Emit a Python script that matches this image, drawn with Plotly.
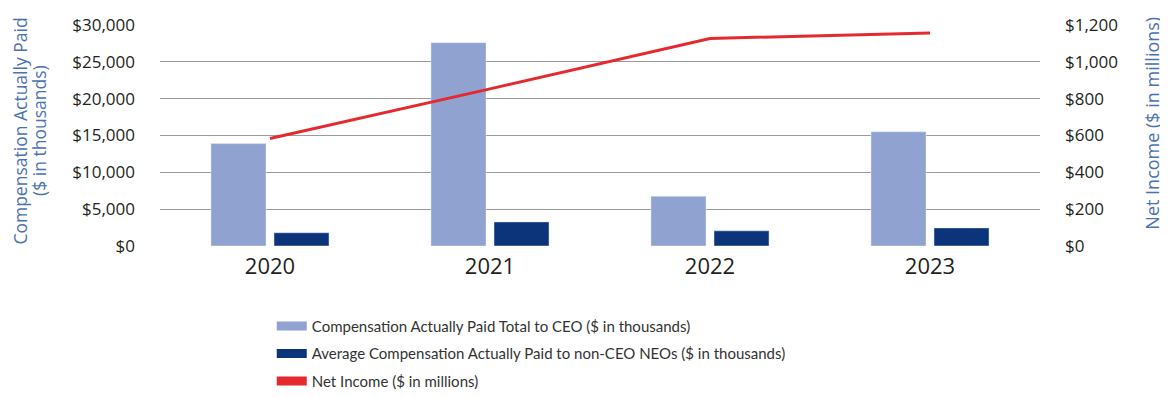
import plotly.graph_objects as go

years = ["2020", "2021", "2022", "2023"]
ceo_cap = [13900, 27600, 6750, 15500]
neo_cap = [1800, 3270, 2060, 2460]
net_income = [584, 853, 1127, 1157]

left_ticks = [0, 5000, 10000, 15000, 20000, 25000, 30000]
right_ticks = [0, 200, 400, 600, 800, 1000, 1200]

C_CEO = "#8fa2d0"
C_NEO = "#0b347a"
C_NI = "#e42a2f"
C_TITLE = "#4a72b2"
C_TEXT = "#231f20"

fig = go.Figure()
fig.add_trace(go.Bar(x=years, y=ceo_cap, marker_color=C_CEO, showlegend=False,
                     name="Compensation Actually Paid Total to CEO ($ in thousands)"))
fig.add_trace(go.Bar(x=years, y=neo_cap, marker_color=C_NEO, showlegend=False,
                     name="Average Compensation Actually Paid to non-CEO NEOs ($ in thousands)"))
fig.add_trace(go.Scatter(x=years, y=net_income, yaxis="y2", mode="lines",
                         line=dict(color=C_NI, width=3), showlegend=False,
                         name="Net Income ($ in millions)"))

# legend entries (rectangular swatches)
for nm, col, g in [("Compensation Actually Paid Total to CEO ($ in thousands)", C_CEO, "a"),
                   ("Average Compensation Actually Paid to non-CEO NEOs ($ in thousands)", C_NEO, "b"),
                   ("Net Income ($ in millions)", C_NI, "c")]:
    fig.add_trace(go.Scatter(x=[None], y=[None], mode="lines", name=nm, legendgroup=g,
                             line=dict(color=col, width=9), showlegend=True))

fig.update_layout(
    width=1160, height=389,
    margin=dict(l=152, r=128, t=17, b=151, autoexpand=False),
    paper_bgcolor="white", plot_bgcolor="white",
    barmode="group", bargap=0.427, bargroupgap=0.127,
    font=dict(family="Open Sans", color=C_TEXT),
    xaxis=dict(showgrid=False, showline=False, zeroline=False, automargin=False,
               ticklabelstandoff=5,
               tickfont=dict(size=22, color=C_TEXT, family="Open Sans")),
    yaxis=dict(range=[0, 30000], tickvals=left_ticks, tickformat="$,",
               showgrid=True, gridcolor="#9a9a9a", gridwidth=1.3, automargin=False,
               zeroline=False, showline=False, ticklabelstandoff=24,
               tickfont=dict(size=17, color=C_TEXT)),
    yaxis2=dict(range=[0, 1200], tickvals=right_ticks, tickformat="$,",
                overlaying="y", side="right", showgrid=False, zeroline=False,
                showline=False, ticklabelstandoff=24, automargin=False,
                tickfont=dict(size=17, color=C_TEXT)),
    legend=dict(x=0.127, y=-0.288, xanchor="left", yanchor="top",
                orientation="v", tracegroupgap=5, itemwidth=30,
                font=dict(family="Lato", size=15, color="#333333")),
    annotations=[
        dict(text="Compensation Actually Paid", textangle=-90, xref="paper", yref="paper",
             x=-0.1585, y=0.52, xanchor="center", yanchor="middle", showarrow=False,
             font=dict(size=17.5, color=C_TITLE)),
        dict(text="($ in thousands)", textangle=-90, xref="paper", yref="paper",
             x=-0.1375, y=0.525, xanchor="center", yanchor="middle", showarrow=False,
             font=dict(size=17.5, color=C_TITLE)),
        dict(text="Net Income ($ in millions)", textangle=-90, xref="paper", yref="paper",
             x=1.127, y=0.557, xanchor="center", yanchor="middle", showarrow=False,
             font=dict(size=18, color=C_TITLE)),
    ],
)

fig.write_html("out.html")
